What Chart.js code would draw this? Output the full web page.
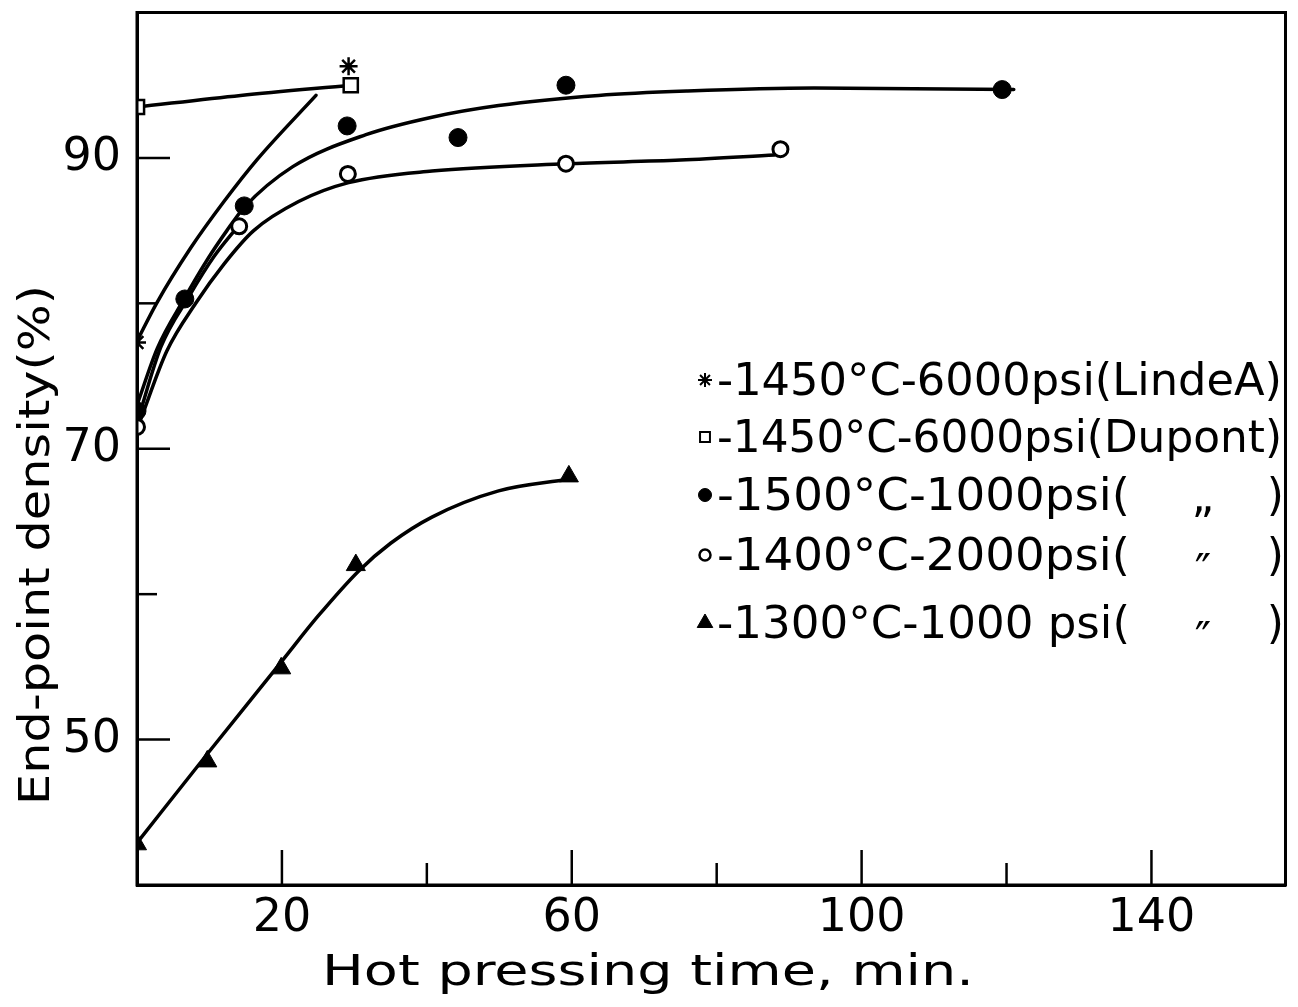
<!DOCTYPE html>
<html>
<head>
<meta charset="utf-8">
<script src="https://cdn.jsdelivr.net/npm/chart.js@4.4.1/dist/chart.umd.min.js"></script>
<style>
  html, body { margin: 0; padding: 0; background: #fff; }
  canvas { display: block; }
</style>
</head>
<body>
<canvas id="chart" width="1298" height="1007"></canvas>
<script>
const FONT = "'DejaVu Sans', sans-serif";

// Axis ticks (every tick is marked, only some carry a number)
const xTickValues = [20, 40, 60, 80, 100, 120, 140];
const xTickLabels = [20, 60, 100, 140];
const yTickValues = [50, 60, 70, 80, 90];
const yTickLabels = [50, 70, 90];

// Measured end-point densities (time in min, density in %)
const lindeTime = [0, 29.2];
const lindeDensity = [77.3, 96.3];
const dupontTime = [0, 29.5];
const dupontDensity = [93.5, 95.0];
const t1500Time = [0, 6.6, 14.8, 29.0, 44.3, 59.2, 119.4];
const t1500Density = [72.6, 80.3, 86.7, 92.2, 91.4, 95.0, 94.7];
const t1400Time = [0, 14.1, 29.1, 59.2, 88.8];
const t1400Density = [71.5, 85.3, 88.9, 89.6, 90.6];
const t1300Time = [0, 9.7, 19.9, 30.2, 59.6];
const t1300Density = [42.8, 48.5, 54.9, 62.0, 68.1];

// Hand-drawn trend curves
const lindeCurveTime = [0, 2.7, 7.4, 12.0, 16.6, 24.7];
const lindeCurveDensity = [77.4, 80.0, 83.8, 87.0, 89.9, 94.3];
const dupontCurveTime = [0, 14.3, 29.5];
const dupontCurveDensity = [93.5, 94.3, 95.0];
const c1500Time = [0, 2.8, 6.5, 9.7, 12.4, 14.8, 21.5, 31.6, 40.7, 49.9, 63.7, 76, 93.4, 121];
const c1500Density = [73.0, 76.9, 80.3, 83.0, 85.0, 86.6, 89.4, 91.6, 92.8, 93.6, 94.3, 94.6, 94.8, 94.7];
const c1400ShortTime = [0.3, 3.3, 7.2, 10.6, 14.1];
const c1400ShortDensity = [72.3, 77.0, 80.5, 83.2, 85.4];
const c1400Time = [0.5, 4.1, 8.1, 12.0, 16.1, 22.3, 29.2, 40.7, 59.2, 75, 88];
const c1400Density = [72.0, 76.7, 80.0, 82.7, 85.0, 87.0, 88.3, 89.1, 89.6, 89.85, 90.2];
const c1300Time = [0, 10, 20, 25, 30.6, 35, 40.7, 49.9, 59.5];
const c1300Density = [42.9, 49.2, 55.4, 58.5, 61.6, 63.5, 65.3, 67.1, 67.9];

// Key entries
const keyLabels = [
  '-1450°C-6000psi(LindeA)',
  '-1450°C-6000psi(Dupont)',
  '-1500°C-1000psi(',
  '-1400°C-2000psi(',
  '-1300°C-1000 psi('
];
const keyDitto = [null, null, '„', '″', '″'];

const toPoints = (xs, ys) => xs.map((x, i) => ({ x: x, y: ys[i] }));

const markerStyles = [
  { pointStyle: 'star', radius: 9, borderWidth: 2.5, borderColor: '#000', backgroundColor: '#000' },
  { pointStyle: 'rect', radius: 10, borderWidth: 2.5, borderColor: '#000', backgroundColor: '#fff' },
  { pointStyle: 'circle', radius: 9, borderWidth: 1, borderColor: '#000', backgroundColor: '#000' },
  { pointStyle: 'circle', radius: 7.5, borderWidth: 3, borderColor: '#000', backgroundColor: '#fff' },
  { pointStyle: 'triangle', radius: 11, borderWidth: 1, borderColor: '#000', backgroundColor: '#000' }
];
// smaller copies of the markers used in the key
const keyMarkerRadius = [7, 7, 6.5, 5.5, 9];
const keyMarkerBorder = [2, 2, 1, 2.5, 1];

function markerSet(xs, ys, s) {
  return {
    type: 'scatter', data: toPoints(xs, ys), showLine: false, order: 0,
    pointStyle: s.pointStyle, pointRadius: s.radius, pointBorderWidth: s.borderWidth,
    pointBorderColor: s.borderColor, pointBackgroundColor: s.backgroundColor
  };
}
function curveSet(xs, ys) {
  return {
    type: 'line', data: toPoints(xs, ys), order: 1, showLine: true,
    borderColor: '#000', borderWidth: 3.5, pointRadius: 0, fill: false,
    cubicInterpolationMode: 'monotone', borderCapStyle: 'round', borderJoinStyle: 'round'
  };
}

function fitText(ctx, text, x, y, width) {
  const w = ctx.measureText(text).width;
  ctx.save();
  ctx.translate(x, y);
  ctx.scale(width / w, 1);
  ctx.fillText(text, 0, 0);
  ctx.restore();
}

const paperPlugin = {
  id: 'paper',
  beforeDraw(chart) {
    const ctx = chart.ctx;
    ctx.save();
    ctx.fillStyle = '#fff';
    ctx.fillRect(0, 0, chart.width, chart.height);
    ctx.restore();
  }
};

const framePlugin = {
  id: 'frame',
  afterDraw(chart) {
    const ctx = chart.ctx;
    const a = chart.chartArea;
    const xs = chart.scales.x, ys = chart.scales.y;
    ctx.save();
    ctx.strokeStyle = '#000';
    ctx.fillStyle = '#000';
    ctx.lineWidth = 3;
    ctx.strokeRect(a.left, a.top, a.right - a.left, a.bottom - a.top);

    // inward tick marks
    ctx.lineWidth = 2.5;
    xTickValues.forEach(v => {
      const px = xs.getPixelForValue(v);
      const len = xTickLabels.includes(v) ? 35 : 22;
      ctx.beginPath();
      ctx.moveTo(px, a.bottom);
      ctx.lineTo(px, a.bottom - len);
      ctx.stroke();
    });
    yTickValues.forEach(v => {
      const py = ys.getPixelForValue(v);
      const len = yTickLabels.includes(v) ? 33 : 20;
      ctx.beginPath();
      ctx.moveTo(a.left, py);
      ctx.lineTo(a.left + len, py);
      ctx.stroke();
    });

    // axis titles
    ctx.font = '43px ' + FONT;
    ctx.textBaseline = 'alphabetic';
    ctx.textAlign = 'left';
    fitText(ctx, 'Hot pressing time, min.', 322, 985, 652);
    ctx.save();
    ctx.translate(49, 805);
    ctx.rotate(-Math.PI / 2);
    fitText(ctx, 'End-point density(%)', 0, 0, 520);
    ctx.restore();

    // key
    const rowBase = [395, 452, 510, 570, 638];
    ctx.font = '44px ' + FONT;
    keyLabels.forEach((label, i) => {
      const base = rowBase[i];
      const s = markerStyles[i];
      ctx.save();
      ctx.fillStyle = s.backgroundColor;
      ctx.strokeStyle = s.borderColor;
      ctx.lineWidth = keyMarkerBorder[i];
      Chart.helpers.drawPoint(ctx, {
        pointStyle: s.pointStyle,
        radius: keyMarkerRadius[i],
        borderWidth: keyMarkerBorder[i],
        rotation: 0
      }, 705, base - 15);
      ctx.restore();
      ctx.fillStyle = '#000';
      if (i < 2) {
        fitText(ctx, label, 717, base, 565);
      } else {
        fitText(ctx, label, 717, base, 413);
        ctx.textAlign = 'center';
        ctx.fillText(keyDitto[i], 1203, keyDitto[i] === '„' ? base + 2 : base + 16);
        ctx.textAlign = 'right';
        ctx.fillText(')', 1284, base);
        ctx.textAlign = 'left';
      }
    });
    ctx.restore();
  }
};

// the plot box is fixed, so drop the padding Chart.js reserves for edge labels
const noEdgePadding = s => {
  s.paddingTop = 0; s.paddingBottom = 0; s.paddingLeft = 0; s.paddingRight = 0;
};

const ctx = document.getElementById('chart').getContext('2d');

new Chart(ctx, {
  data: {
    datasets: [
      markerSet(lindeTime, lindeDensity, markerStyles[0]),
      markerSet(dupontTime, dupontDensity, markerStyles[1]),
      markerSet(t1500Time, t1500Density, markerStyles[2]),
      markerSet(t1400Time, t1400Density, markerStyles[3]),
      markerSet(t1300Time, t1300Density, markerStyles[4]),
      curveSet(lindeCurveTime, lindeCurveDensity),
      curveSet(dupontCurveTime, dupontCurveDensity),
      curveSet(c1500Time, c1500Density),
      curveSet(c1400ShortTime, c1400ShortDensity),
      curveSet(c1400Time, c1400Density),
      curveSet(c1300Time, c1300Density)
    ]
  },
  options: {
    responsive: false,
    animation: false,
    devicePixelRatio: 1,
    layout: { padding: { top: 10, right: 11, left: 0, bottom: 0 } },
    plugins: { legend: { display: false }, tooltip: { enabled: false } },
    scales: {
      x: {
        type: 'linear', min: 0, max: 158.5,
        grid: { display: false, drawTicks: false },
        border: { display: true, color: '#000', width: 3 },
        afterBuildTicks: s => { s.ticks = xTickValues.map(v => ({ value: v })); },
        afterFit: s => { s.height = 122; noEdgePadding(s); },
        ticks: {
          autoSkip: false, maxRotation: 0, padding: 6, color: '#000',
          font: { family: FONT, size: 46 },
          callback: v => xTickLabels.includes(v) ? String(v) : ''
        }
      },
      y: {
        type: 'linear', min: 40, max: 100,
        grid: { display: false, drawTicks: false },
        border: { display: true, color: '#000', width: 3 },
        afterBuildTicks: s => { s.ticks = yTickValues.map(v => ({ value: v })); },
        afterFit: s => { s.width = 137; noEdgePadding(s); },
        ticks: {
          autoSkip: false, padding: 16, color: '#000',
          font: { family: FONT, size: 46 },
          callback: v => yTickLabels.includes(v) ? String(v) : ''
        }
      }
    }
  },
  plugins: [paperPlugin, framePlugin]
});
</script>
</body>
</html>
